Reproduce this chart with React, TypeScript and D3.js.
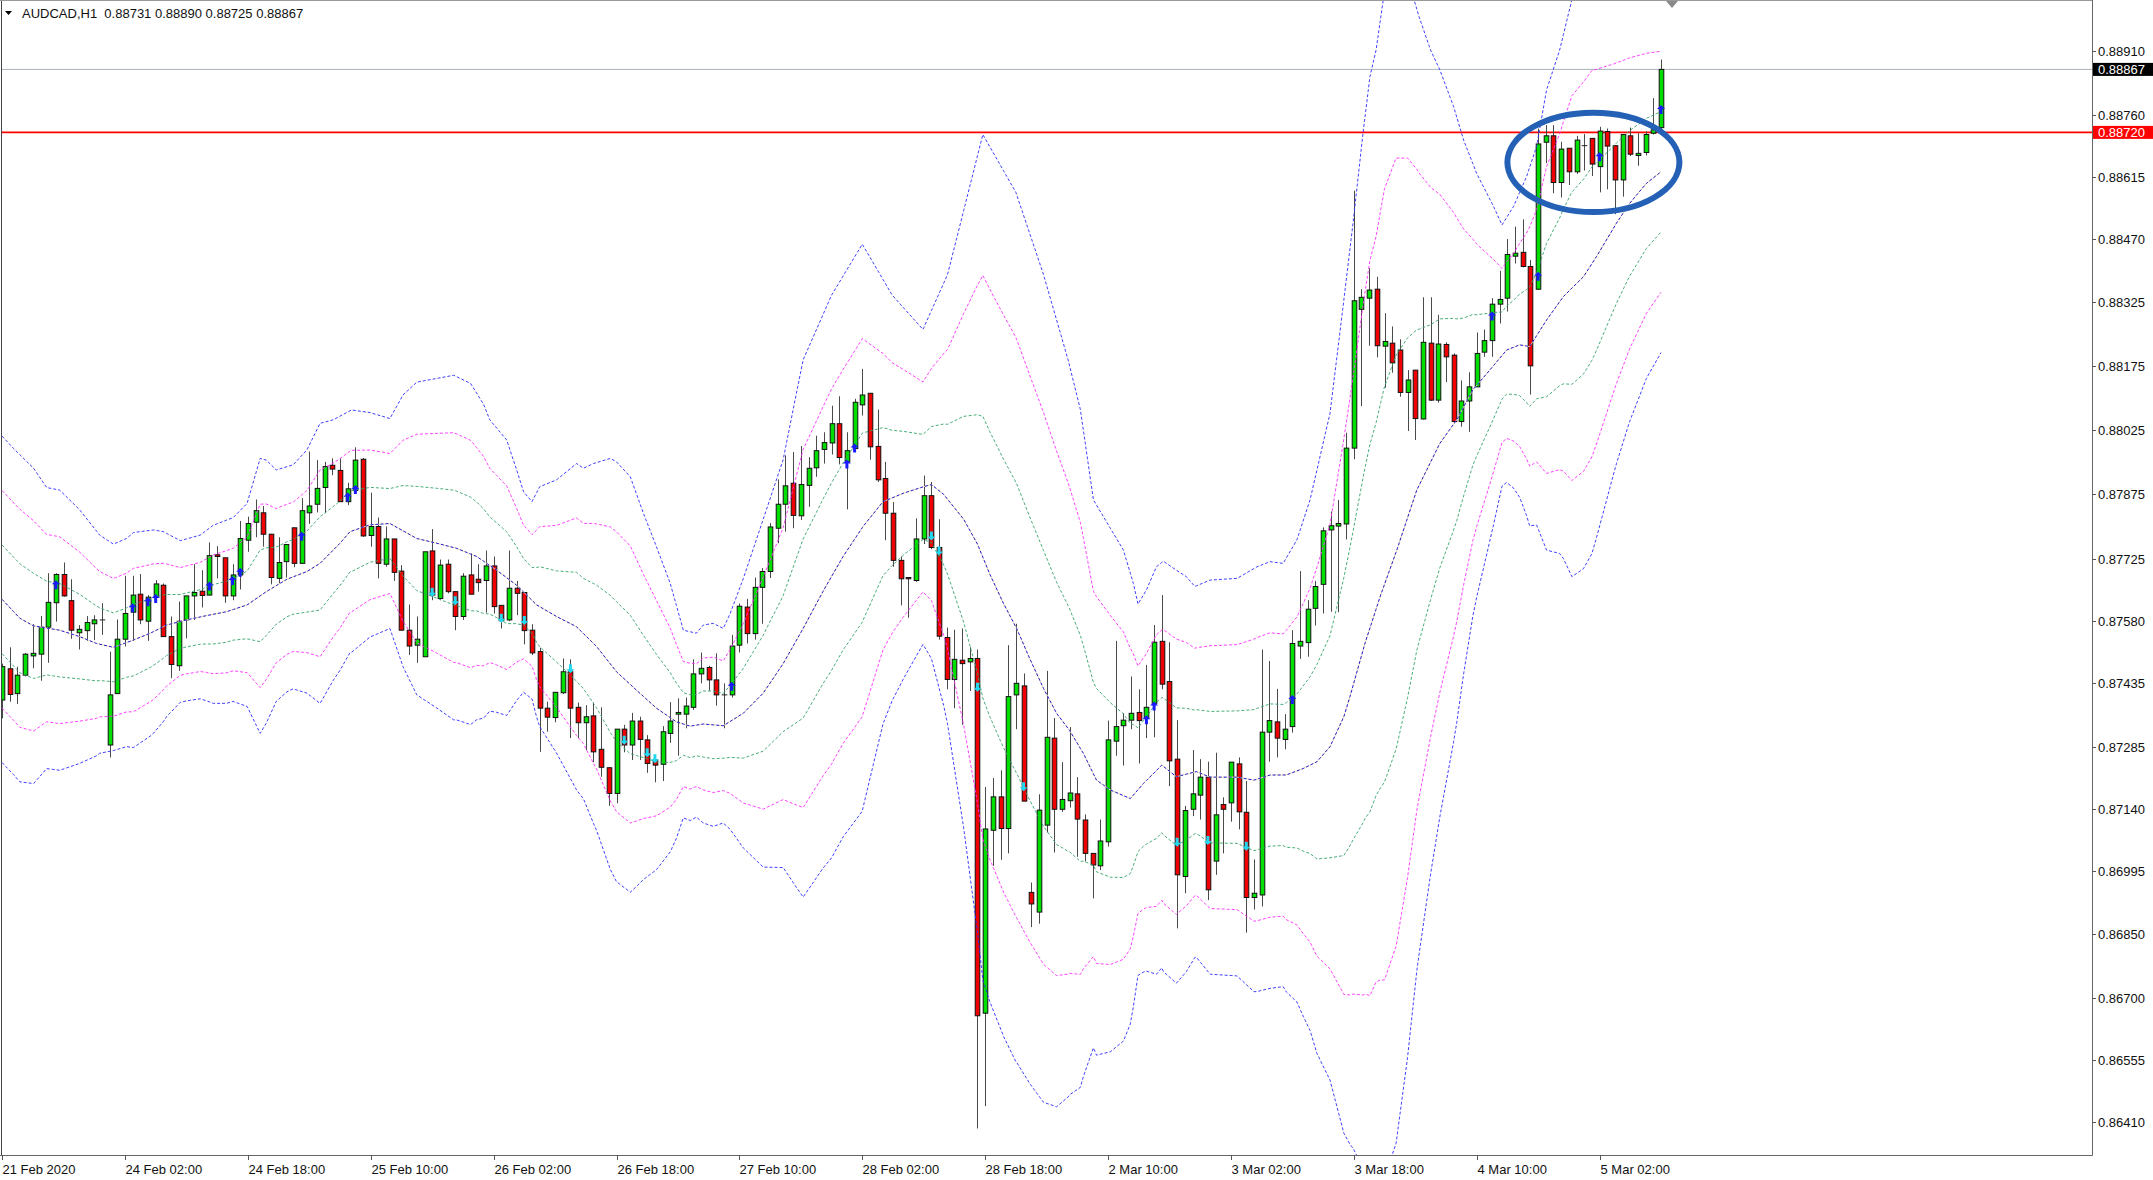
import React from 'react';
import * as d3 from 'd3';

const W = 2153;
const H = 1180;

const symbolTitle = 'AUDCAD,H1';
const lastBar = [0.88731, 0.8889, 0.88725, 0.88867];

const opens = [
  0.87395, 0.87468, 0.8741, 0.87453, 0.87498, 0.87502, 0.87565, 0.87622, 0.87688, 0.87627,
  0.87552, 0.87557, 0.87573, 0.87582, 0.8729, 0.8741, 0.87537, 0.876, 0.87642, 0.87579,
  0.87635, 0.87663, 0.87543, 0.87475, 0.87582, 0.87638, 0.87649, 0.8764, 0.87734, 0.87727,
  0.87638, 0.87687, 0.87768, 0.8781, 0.87832, 0.87782, 0.87679, 0.87718, 0.87797, 0.87714,
  0.87832, 0.87852, 0.87891, 0.87943, 0.87931, 0.87858, 0.87884, 0.87957, 0.87779, 0.878,
  0.87712, 0.87771, 0.87696, 0.87558, 0.87523, 0.87496, 0.87743, 0.87632, 0.87712, 0.87648,
  0.8759, 0.87687, 0.87677, 0.87674, 0.87708, 0.87616, 0.87582, 0.87656, 0.87646, 0.87558,
  0.87508, 0.87376, 0.87354, 0.87412, 0.87461, 0.87378, 0.87342, 0.87358, 0.8728, 0.87237,
  0.87177, 0.87327, 0.8729, 0.87346, 0.87302, 0.87255, 0.87245, 0.87317, 0.87362, 0.87362,
  0.87378, 0.87456, 0.87471, 0.87442, 0.87407, 0.87407, 0.87523, 0.87612, 0.8755, 0.87658,
  0.87695, 0.87796, 0.87852, 0.87901, 0.87825, 0.87896, 0.87937, 0.8798, 0.87995, 0.8804,
  0.87951, 0.87982, 0.88084, 0.88111, 0.87987, 0.87912, 0.87831, 0.87721, 0.87681, 0.87674,
  0.87771, 0.87872, 0.87751, 0.87541, 0.87443, 0.87488, 0.87484, 0.87492, 0.86664, 0.87091,
  0.87169, 0.87095, 0.87407, 0.87428, 0.86946, 0.869, 0.87103, 0.87306, 0.8714, 0.8716,
  0.87176, 0.87115, 0.87037, 0.87008, 0.87064, 0.87299, 0.87335, 0.87348, 0.87366, 0.87352,
  0.87387, 0.87532, 0.87438, 0.87257, 0.86983, 0.8714, 0.87173, 0.87215, 0.87019, 0.87151,
  0.87155, 0.87246, 0.87133, 0.86934, 0.8694, 0.8732, 0.87344, 0.87303, 0.87333, 0.87521,
  0.87529, 0.87609, 0.87665, 0.87792, 0.87801, 0.87806, 0.87983, 0.88307, 0.88333, 0.88354,
  0.88221, 0.88228, 0.88212, 0.88113, 0.88165, 0.88051, 0.88228, 0.88095, 0.88225, 0.882,
  0.88045, 0.88093, 0.88126, 0.88207, 0.88234, 0.88319, 0.88333, 0.88431, 0.8844, 0.88407,
  0.88354, 0.88697, 0.88712, 0.88603, 0.88683, 0.88628, 0.88689, 0.88706, 0.8864, 0.88722,
  0.88689, 0.88609, 0.88712, 0.88666, 0.88673, 0.88718, 0.88731,
];
const highs = [
  0.8748, 0.87518, 0.87473, 0.87505, 0.87572, 0.87591, 0.87691, 0.87691, 0.87716, 0.87677,
  0.8757, 0.87591, 0.87593, 0.87621, 0.87508, 0.87583, 0.87685, 0.87685, 0.87689, 0.8764,
  0.87675, 0.87667, 0.8759, 0.87625, 0.87638, 0.87712, 0.87698, 0.87763, 0.87754, 0.87727,
  0.87712, 0.87813, 0.87823, 0.87863, 0.87848, 0.87783, 0.87775, 0.87758, 0.87797, 0.87866,
  0.87975, 0.87955, 0.87951, 0.87959, 0.87959, 0.87902, 0.87985, 0.8796, 0.87879, 0.87821,
  0.878, 0.87771, 0.8771, 0.87618, 0.8759, 0.87741, 0.87794, 0.87723, 0.87723, 0.87648,
  0.87691, 0.87737, 0.87712, 0.87744, 0.8773, 0.87616, 0.87744, 0.87673, 0.87646, 0.87572,
  0.87517, 0.87391, 0.87413, 0.87492, 0.8749, 0.87389, 0.87383, 0.87389, 0.87378, 0.87238,
  0.87327, 0.87337, 0.87365, 0.87356, 0.87313, 0.87259, 0.87334, 0.8739, 0.87399, 0.87401,
  0.8749, 0.87506, 0.87475, 0.87504, 0.87434, 0.87547, 0.8762, 0.87631, 0.87681, 0.87703,
  0.87808, 0.8791, 0.87966, 0.87974, 0.87988, 0.87962, 0.88012, 0.8802, 0.88082, 0.88104,
  0.8802, 0.88098, 0.88168, 0.88111, 0.88073, 0.87951, 0.87857, 0.8773, 0.87681, 0.87819,
  0.87919, 0.87904, 0.87817, 0.87564, 0.87559, 0.87562, 0.87518, 0.87513, 0.87192, 0.87213,
  0.87231, 0.87523, 0.87573, 0.87457, 0.86969, 0.87175, 0.87463, 0.87353, 0.8725, 0.87332,
  0.87215, 0.87128, 0.87037, 0.87116, 0.87347, 0.87533, 0.87364, 0.8745, 0.8742, 0.87477,
  0.8757, 0.8764, 0.8753, 0.87348, 0.87148, 0.87278, 0.87257, 0.87251, 0.87272, 0.87168,
  0.8725, 0.87261, 0.87206, 0.87023, 0.87513, 0.87486, 0.87421, 0.87362, 0.87558, 0.87696,
  0.87628, 0.87673, 0.87798, 0.87835, 0.87862, 0.88019, 0.88584, 0.88354, 0.88403, 0.88383,
  0.88298, 0.88267, 0.88237, 0.88165, 0.88165, 0.88335, 0.88335, 0.88294, 0.8823, 0.88204,
  0.88141, 0.8816, 0.88253, 0.8826, 0.88333, 0.88397, 0.88471, 0.885, 0.88517, 0.88422,
  0.88729, 0.88737, 0.88737, 0.88698, 0.88683, 0.88712, 0.88716, 0.88706, 0.88733, 0.88729,
  0.88689, 0.88715, 0.88731, 0.88718, 0.88722, 0.888, 0.8889,
];
const lows = [
  0.87352, 0.87391, 0.87386, 0.8745, 0.87469, 0.8744, 0.87482, 0.87578, 0.87636, 0.87538,
  0.87513, 0.87533, 0.87535, 0.87547, 0.87261, 0.8741, 0.8752, 0.87533, 0.87572, 0.87533,
  0.87628, 0.87543, 0.87446, 0.87463, 0.87539, 0.87582, 0.87611, 0.87639, 0.87679, 0.87622,
  0.87628, 0.87653, 0.87741, 0.87775, 0.87753, 0.87665, 0.87666, 0.87681, 0.87705, 0.87714,
  0.87806, 0.87833, 0.87831, 0.8792, 0.87858, 0.8785, 0.87877, 0.87776, 0.87753, 0.87679,
  0.87706, 0.87673, 0.87558, 0.875, 0.87482, 0.87496, 0.87628, 0.87628, 0.87644, 0.87558,
  0.87582, 0.87642, 0.87648, 0.87599, 0.87597, 0.87562, 0.87579, 0.87593, 0.87525, 0.875,
  0.87274, 0.87321, 0.87343, 0.87409, 0.87306, 0.87306, 0.87278, 0.8725, 0.87216, 0.87148,
  0.87154, 0.87273, 0.87255, 0.87255, 0.87225, 0.87203, 0.87206, 0.87295, 0.87265, 0.87329,
  0.87372, 0.87434, 0.87417, 0.87382, 0.87329, 0.87401, 0.87506, 0.87527, 0.87536, 0.87573,
  0.8768, 0.87761, 0.87788, 0.87796, 0.87815, 0.87846, 0.87916, 0.87947, 0.87968, 0.87945,
  0.8784, 0.87977, 0.88059, 0.87956, 0.87904, 0.87768, 0.87706, 0.87616, 0.87587, 0.87671,
  0.87759, 0.87747, 0.87536, 0.8742, 0.87376, 0.87337, 0.87416, 0.86395, 0.86447, 0.87008,
  0.87022, 0.87037, 0.87327, 0.87159, 0.86865, 0.86873, 0.87086, 0.87039, 0.87134, 0.87144,
  0.87029, 0.87018, 0.86932, 0.86998, 0.87053, 0.87265, 0.87242, 0.87327, 0.87247, 0.87306,
  0.87308, 0.8742, 0.87194, 0.86862, 0.86944, 0.87124, 0.87116, 0.86928, 0.86987, 0.87037,
  0.87111, 0.87093, 0.86852, 0.86906, 0.86913, 0.87251, 0.87261, 0.8728, 0.87319, 0.87491,
  0.87496, 0.87569, 0.87597, 0.87601, 0.876, 0.8777, 0.87957, 0.88081, 0.88222, 0.88195,
  0.88124, 0.88159, 0.88103, 0.88023, 0.88002, 0.8805, 0.88093, 0.88089, 0.88137, 0.88041,
  0.88033, 0.88021, 0.88126, 0.88196, 0.88196, 0.88274, 0.88302, 0.88414, 0.88405, 0.88108,
  0.88352, 0.88648, 0.88578, 0.88568, 0.88597, 0.88623, 0.88631, 0.88618, 0.8858, 0.88587,
  0.88529, 0.8857, 0.88665, 0.88642, 0.88666, 0.88715, 0.88725,
];
const closes = [
  0.87473, 0.87408, 0.87453, 0.87502, 0.87504, 0.87565, 0.87623, 0.87688, 0.87638, 0.87558,
  0.8756, 0.87576, 0.87582, 0.87582, 0.87407, 0.87537, 0.87597, 0.8764, 0.87582, 0.87635,
  0.87666, 0.87543, 0.87478, 0.87579, 0.87638, 0.87646, 0.87639, 0.87732, 0.8773, 0.87638,
  0.87687, 0.87772, 0.87807, 0.87837, 0.87782, 0.87681, 0.87716, 0.87758, 0.87714, 0.87837,
  0.87848, 0.87889, 0.8794, 0.87934, 0.87858, 0.87888, 0.87955, 0.87778, 0.878, 0.87714,
  0.87771, 0.87693, 0.87558, 0.87521, 0.87537, 0.87741, 0.8764, 0.8771, 0.87648, 0.8759,
  0.87684, 0.87642, 0.87669, 0.87708, 0.87613, 0.8758, 0.87656, 0.87644, 0.87557, 0.87505,
  0.87376, 0.87355, 0.87413, 0.87461, 0.87376, 0.87342, 0.87356, 0.87274, 0.87238, 0.87177,
  0.87327, 0.8729, 0.87346, 0.87303, 0.87247, 0.87243, 0.87321, 0.87346, 0.87366, 0.87381,
  0.87456, 0.87469, 0.87442, 0.87407, 0.87407, 0.87521, 0.87614, 0.8755, 0.87658, 0.87695,
  0.87799, 0.87852, 0.87895, 0.87826, 0.87898, 0.87936, 0.87977, 0.87996, 0.8804, 0.87961,
  0.87977, 0.8809, 0.88107, 0.87986, 0.87909, 0.87831, 0.87721, 0.87678, 0.87678, 0.87771,
  0.87872, 0.87751, 0.87544, 0.87443, 0.8749, 0.8748, 0.87492, 0.86658, 0.87094, 0.87169,
  0.87095, 0.87403, 0.87434, 0.87159, 0.86919, 0.87138, 0.87308, 0.8714, 0.87163, 0.87178,
  0.87117, 0.87037, 0.8701, 0.87066, 0.87302, 0.87333, 0.87348, 0.87364, 0.87347, 0.87378,
  0.8753, 0.87432, 0.87253, 0.86987, 0.87137, 0.87176, 0.87215, 0.86952, 0.87127, 0.8714,
  0.8725, 0.87134, 0.86934, 0.86944, 0.8732, 0.87347, 0.87306, 0.87327, 0.87527, 0.87532,
  0.87607, 0.8766, 0.8779, 0.87802, 0.87807, 0.87983, 0.88327, 0.88335, 0.88352, 0.88222,
  0.88232, 0.88182, 0.88113, 0.88142, 0.88052, 0.8823, 0.88095, 0.88226, 0.88196, 0.88045,
  0.88093, 0.88126, 0.88204, 0.88234, 0.88319, 0.8833, 0.88435, 0.88438, 0.88407, 0.88175,
  0.88693, 0.88712, 0.88603, 0.88681, 0.88628, 0.88702, 0.88689, 0.88646, 0.88723, 0.88688,
  0.88609, 0.88715, 0.88669, 0.88671, 0.88715, 0.88726, 0.88867,
];

const timeTickBars = [0, 16, 32, 48, 64, 80, 96, 112, 128, 144, 160, 176, 192, 208];
const timeTickLabels = [
  '21 Feb 2020', '24 Feb 02:00', '24 Feb 18:00', '25 Feb 10:00', '26 Feb 02:00', '26 Feb 18:00',
  '27 Feb 10:00', '28 Feb 02:00', '28 Feb 18:00', '2 Mar 10:00', '3 Mar 02:00', '3 Mar 18:00',
  '4 Mar 10:00', '5 Mar 02:00',
];
const priceTickLabels = [
  '0.88910', '0.88760', '0.88615', '0.88470', '0.88325', '0.88175', '0.88025', '0.87875', '0.87725',
  '0.87580', '0.87435', '0.87285', '0.87140', '0.86995', '0.86850', '0.86700', '0.86555', '0.86410',
];

// Bollinger middle line, read at [bar, price]
const midKeys: [number, number][] = [
  [0, 0.8763], [2.3, 0.87586], [4.1, 0.87568], [7.5, 0.87558], [10.1, 0.87543], [12.3, 0.87527],
  [14.5, 0.87518], [17.1, 0.87535], [19.3, 0.87551], [21.4, 0.8757], [24.0, 0.87582], [26.6, 0.87592],
  [29.2, 0.87601], [31.9, 0.87617], [34.4, 0.87648], [37.1, 0.87677], [39.7, 0.87695], [41.4, 0.87714],
  [44.0, 0.87761], [45.3, 0.87788], [47.9, 0.87804], [50.5, 0.87807], [54.0, 0.87772], [56.6, 0.87761],
  [59.2, 0.87749], [61.8, 0.8773], [64.4, 0.87698], [67.0, 0.87663], [69.6, 0.87617], [72.2, 0.8759],
  [74.8, 0.87566], [77.4, 0.8752], [80.0, 0.87461], [82.6, 0.87418], [85.2, 0.87376], [87.8, 0.87344],
  [89.6, 0.87334], [91.3, 0.87339], [93.9, 0.87335], [96.5, 0.87364], [99.1, 0.87411], [101.7, 0.8748],
  [104.3, 0.87562], [106.9, 0.87649], [109.5, 0.8773], [112.1, 0.878], [114.7, 0.87858], [117.4, 0.87878],
  [120.0, 0.87893], [121.0, 0.87898], [122.6, 0.87875], [125.2, 0.87817], [127.0, 0.87759], [128.6, 0.87689],
  [130.4, 0.8762], [132.1, 0.87562], [133.8, 0.87492], [135.6, 0.87422], [137.3, 0.87364], [139.0, 0.87324],
  [140.8, 0.8727], [142.5, 0.87208], [144.3, 0.87185], [146.9, 0.87165], [148.6, 0.872], [151.0, 0.87243],
  [152.9, 0.87216], [155.5, 0.87228], [157.3, 0.87215], [160.8, 0.87215], [163.0, 0.87208], [165.1, 0.8722],
  [167.2, 0.8722], [169.4, 0.87235], [171.2, 0.87251], [172.9, 0.87286], [174.7, 0.87356], [175.5, 0.87403],
  [177.5, 0.8753], [179.5, 0.8764], [181.6, 0.87745], [184.2, 0.87885], [187.2, 0.87994], [189.4, 0.88049],
  [191.5, 0.88119], [193.7, 0.88165], [195.9, 0.88212], [197.6, 0.88224], [198.9, 0.8822], [201.1, 0.88282],
  [203.3, 0.88337], [205.9, 0.88383], [207.6, 0.8843], [210.2, 0.88508], [211.9, 0.88554], [214.1, 0.88601],
  [216, 0.88628],
];
// Outer (3 deviation) upper band, read at [bar, price]
const upper3Keys: [number, number][] = [
  [0, 0.88011], [1.5, 0.87982], [4.1, 0.87936], [5.8, 0.87891], [7.5, 0.87885], [10.1, 0.87839],
  [12.7, 0.8778], [14.5, 0.87759], [16.2, 0.87772], [17.1, 0.87786], [19.7, 0.87792], [21.0, 0.87788],
  [23.2, 0.87767], [25.8, 0.8778], [27.5, 0.87803], [30.1, 0.87821], [31.9, 0.87854], [33.6, 0.87959],
  [34.4, 0.87955], [35.7, 0.87932], [37.9, 0.87944], [39.7, 0.87979], [41.4, 0.88041], [43.1, 0.88049],
  [45.5, 0.88072], [47.9, 0.88066], [50.5, 0.88052], [52.2, 0.88107], [54.0, 0.88137], [58.8, 0.88153],
  [61.0, 0.88134], [62.7, 0.88085], [63.5, 0.88049], [65.7, 0.88002], [67.0, 0.87932], [67.9, 0.87881],
  [69.0, 0.87858], [70.0, 0.87893], [72.2, 0.87909], [74.8, 0.87947], [75.7, 0.87936], [77.0, 0.87947],
  [79.2, 0.87959], [80.0, 0.87951], [81.8, 0.87916], [83.5, 0.87831], [85.2, 0.87753], [87.0, 0.87667],
  [88.7, 0.87558], [90.4, 0.87551], [91.3, 0.8757], [92.6, 0.87574], [93.9, 0.87562], [94.8, 0.87597],
  [96.5, 0.87678], [99.1, 0.87817], [101.7, 0.87956], [103.0, 0.88073], [104.3, 0.88189], [108.0, 0.8834],
  [112.0, 0.88459], [115.9, 0.8834], [119.9, 0.8826], [123.1, 0.88388], [127.7, 0.88715], [132.0, 0.8858],
  [135.6, 0.88388], [138.8, 0.88189], [140.4, 0.88073], [142.1, 0.87862], [143.4, 0.87823], [146.0, 0.87745],
  [147.3, 0.87667], [147.9, 0.87619], [149.0, 0.87652], [150.3, 0.87706], [151.2, 0.87719], [152.9, 0.87698],
  [154.2, 0.87683], [155.3, 0.8766], [157.3, 0.87675], [160.8, 0.87679], [163.4, 0.87706], [165.1, 0.87718],
  [166.8, 0.87714], [168.6, 0.87769], [170.3, 0.87862], [172.9, 0.88064], [174.6, 0.88313], [175.9, 0.88508],
  [177.2, 0.88718], [178.1, 0.8885], [178.9, 0.88912], [180.0, 0.8905], [181.5, 0.8912], [183.0, 0.8908],
  [184.5, 0.8899], [186.0, 0.88912], [187.2, 0.88866], [189.0, 0.8878], [190.3, 0.88702], [192.0, 0.88624],
  [194.2, 0.88547], [195.3, 0.88504], [196.8, 0.88547], [198.5, 0.88617], [199.8, 0.88687], [201.1, 0.88819],
  [202.8, 0.88912], [204.4, 0.8903], [207.0, 0.8909], [210.0, 0.8907], [213.0, 0.8906], [216.0, 0.8905],
];

const upArrowBars = [7, 17, 19, 20, 27, 30, 31, 39, 45, 46, 95, 110, 111, 149, 150, 168, 194, 200, 208, 216];
const upArrowPrices = [
  0.87663, 0.87609, 0.87623, 0.87631, 0.8766, 0.87673, 0.87692, 0.87776, 0.87868, 0.87885,
  0.87426, 0.87945, 0.87982, 0.87348, 0.8738, 0.87395, 0.8829, 0.88383, 0.88662, 0.88772,
];
const downArrowBars = [56, 59, 65, 68, 74, 81, 84, 85, 121, 122, 127, 133, 153, 157, 162];
const downArrowPrices = [
  0.87648, 0.87628, 0.87587, 0.87582, 0.87469, 0.87302, 0.87273, 0.87259, 0.87779, 0.87744,
  0.87426, 0.87194, 0.87064, 0.87068, 0.87055,
];

const bidPrice = 0.88867;
const levelPrice = 0.8872;
const ellipseCenterBar = 207.2;
const ellipseCenterPrice = 0.88650;
const ellipseHalfBars = 11.2;
const ellipseHalfPrice = 0.00116;

const bandDevs = [3, 2, 1, -1, -2, -3];

const PL = 2;
const PR = 2092;
const PT = 1;
const PB = 1155;

const x = d3.scaleLinear().domain([0, 216]).range([2.1, 1661.0]);
const y = d3.scaleLinear().domain([0.89029, 0.86333]).range([0, 1155]);

const FONT = '"Liberation Sans", Arial, sans-serif';

function App() {
  const n = opens.length;
  const midFn = d3.scaleLinear().domain(midKeys.map((k) => k[0])).range(midKeys.map((k) => k[1])).clamp(true);
  const upFn = d3.scaleLinear().domain(upper3Keys.map((k) => k[0])).range(upper3Keys.map((k) => k[1])).clamp(true);
  const knots = Array.from(new Set([...midKeys.map((k) => k[0]), ...upper3Keys.map((k) => k[0])])).sort((a, b) => a - b);

  const line = d3.line<[number, number]>().x((d) => x(d[0])).y((d) => y(d[1])).curve(d3.curveLinear);
  const bandPath = (k: number) =>
    line(knots.map((b) => [b, midFn(b) + (k * (upFn(b) - midFn(b))) / 3] as [number, number])) || '';
  const midPath = line(knots.map((b) => [b, midFn(b)] as [number, number])) || '';

  const bandColor = (k: number) => (Math.abs(k) === 3 ? '#2b2bff' : Math.abs(k) === 2 ? '#ff2cff' : '#35a46a');

  const bw = 4.6;

  const upArrow = (cx: number, cy: number) =>
    `M${cx},${cy - 5} L${cx + 4},${cy - 1} L${cx + 1.5},${cy - 1} L${cx + 1.5},${cy + 4} L${cx - 1.5},${cy + 4} L${cx - 1.5},${cy - 1} L${cx - 4},${cy - 1} Z`;
  const downArrow = (cx: number, cy: number) =>
    `M${cx},${cy + 5} L${cx + 4},${cy + 1} L${cx + 1.5},${cy + 1} L${cx + 1.5},${cy - 4} L${cx - 1.5},${cy - 4} L${cx - 1.5},${cy + 1} L${cx - 4},${cy + 1} Z`;

  const ex = x(ellipseCenterBar);
  const ey = y(ellipseCenterPrice);
  const erx = x(ellipseCenterBar + ellipseHalfBars) - ex;
  const ery = y(ellipseCenterPrice - ellipseHalfPrice) - ey;

  return (
    <div style={{ position: 'absolute', left: 0, top: 0, width: W, height: H, background: '#fff' }}>
      <svg width={W} height={H} style={{ display: 'block' }}>
        <defs>
          <clipPath id="plotClip">
            <rect x={PL} y={PT} width={PR - PL} height={PB - PT} />
          </clipPath>
        </defs>
        <rect x={0} y={0} width={W} height={H} fill="#ffffff" />

        {/* horizontal price lines */}
        <line x1={PL} x2={PR} y1={y(bidPrice)} y2={y(bidPrice)} stroke="#a9b3bd" strokeWidth={1} />
        <line x1={PL} x2={PR} y1={y(levelPrice)} y2={y(levelPrice)} stroke="#ff0000" strokeWidth={1.6} />

        {/* candles */}
        <g clipPath="url(#plotClip)">
          {d3.range(n).map((i) => {
            const cx = Math.round(x(i)) + 0.5;
            const o = opens[i];
            const c = closes[i];
            const up = c > o;
            const doji = Math.abs(c - o) < 0.000015;
            const top = y(Math.max(o, c));
            const bot = y(Math.min(o, c));
            return (
              <g key={i}>
                <line x1={cx} x2={cx} y1={y(highs[i])} y2={y(lows[i])} stroke="#4a4a4a" strokeWidth={1} />
                {doji ? (
                  <line x1={cx - bw / 2 - 0.5} x2={cx + bw / 2 + 0.5} y1={top} y2={top} stroke="#222" strokeWidth={1} />
                ) : (
                  <rect
                    x={cx - bw / 2}
                    y={top}
                    width={bw}
                    height={Math.max(1, bot - top)}
                    fill={up ? '#00e000' : '#f00000'}
                    stroke="#111"
                    strokeWidth={1}
                  />
                )}
              </g>
            );
          })}
        </g>

        {/* bands */}
        <g clipPath="url(#plotClip)" fill="none">
          {bandDevs.map((k) => (
            <path key={k} d={bandPath(k)} stroke={bandColor(k)} strokeWidth={1} strokeDasharray="3,2" opacity={0.9} />
          ))}
          <path d={midPath} stroke="#f6dcb8" strokeWidth={1} />
          <path d={midPath} stroke="#1f1fd8" strokeWidth={1} strokeDasharray="3,2" />
        </g>

        {/* signal arrows */}
        <g clipPath="url(#plotClip)">
          {upArrowBars.map((b, j) => (
            <path key={'u' + j} d={upArrow(x(b), y(upArrowPrices[j]))} fill="#1a1aff" />
          ))}
          {downArrowBars.map((b, j) => (
            <path key={'d' + j} d={downArrow(x(b), y(downArrowPrices[j]))} fill="#22d8f0" />
          ))}
        </g>

        {/* annotation ellipse */}
        <ellipse cx={ex} cy={ey} rx={erx} ry={ery} fill="none" stroke="#2461b6" strokeWidth={6} />

        {/* plot frame */}
        <line x1={1.5} x2={1.5} y1={0} y2={PB} stroke="#444" strokeWidth={1} />
        <line x1={0} x2={PR} y1={0.5} y2={0.5} stroke="#999" strokeWidth={1} />
        <line x1={PR + 0.5} x2={PR + 0.5} y1={0} y2={PB + 0.5} stroke="#666" strokeWidth={1} />
        <line x1={0} x2={PR + 0.5} y1={PB + 0.5} y2={PB + 0.5} stroke="#666" strokeWidth={1} />

        {/* chart shift marker */}
        <path d="M1666,1 L1678,1 L1672,8 Z" fill="#8a8a8a" />

        {/* price axis */}
        {priceTickLabels.map((t) => {
          const py = Math.round(y(parseFloat(t))) + 0.5;
          return (
            <g key={t}>
              <line x1={PR} x2={PR + 4} y1={py} y2={py} stroke="#555" strokeWidth={1} />
              <text x={2098} y={py} dy="0.36em" fontFamily={FONT} fontSize={13} fill="#111">
                {t}
              </text>
            </g>
          );
        })}
        <rect x={2093} y={y(bidPrice) - 6.5} width={60} height={13} fill="#000" />
        <text x={2098} y={y(bidPrice)} dy="0.36em" fontFamily={FONT} fontSize={13} fill="#fff">
          {bidPrice.toFixed(5)}
        </text>
        <rect x={2093} y={y(levelPrice) - 6.5} width={60} height={13} fill="#ff0000" />
        <text x={2098} y={y(levelPrice)} dy="0.36em" fontFamily={FONT} fontSize={13} fill="#fff">
          {levelPrice.toFixed(5)}
        </text>

        {/* time axis */}
        {timeTickBars.map((b, j) => {
          const tx = Math.round(x(b)) + 0.5;
          return (
            <g key={b}>
              <line x1={tx} x2={tx} y1={PB} y2={PB + 5} stroke="#555" strokeWidth={1} />
              <text x={tx} y={1174} fontFamily={FONT} fontSize={13} fill="#111">
                {timeTickLabels[j]}
              </text>
            </g>
          );
        })}

        {/* header */}
        <path d="M5,11 L12,11 L8.5,15 Z" fill="#000" />
        <text x={22} y={18} fontFamily={FONT} fontSize={13} fill="#111" style={{ whiteSpace: 'pre' }}>
          {symbolTitle + '  ' + lastBar.map((v) => v.toFixed(5)).join(' ')}
        </text>
      </svg>
    </div>
  );
}

export default App;
